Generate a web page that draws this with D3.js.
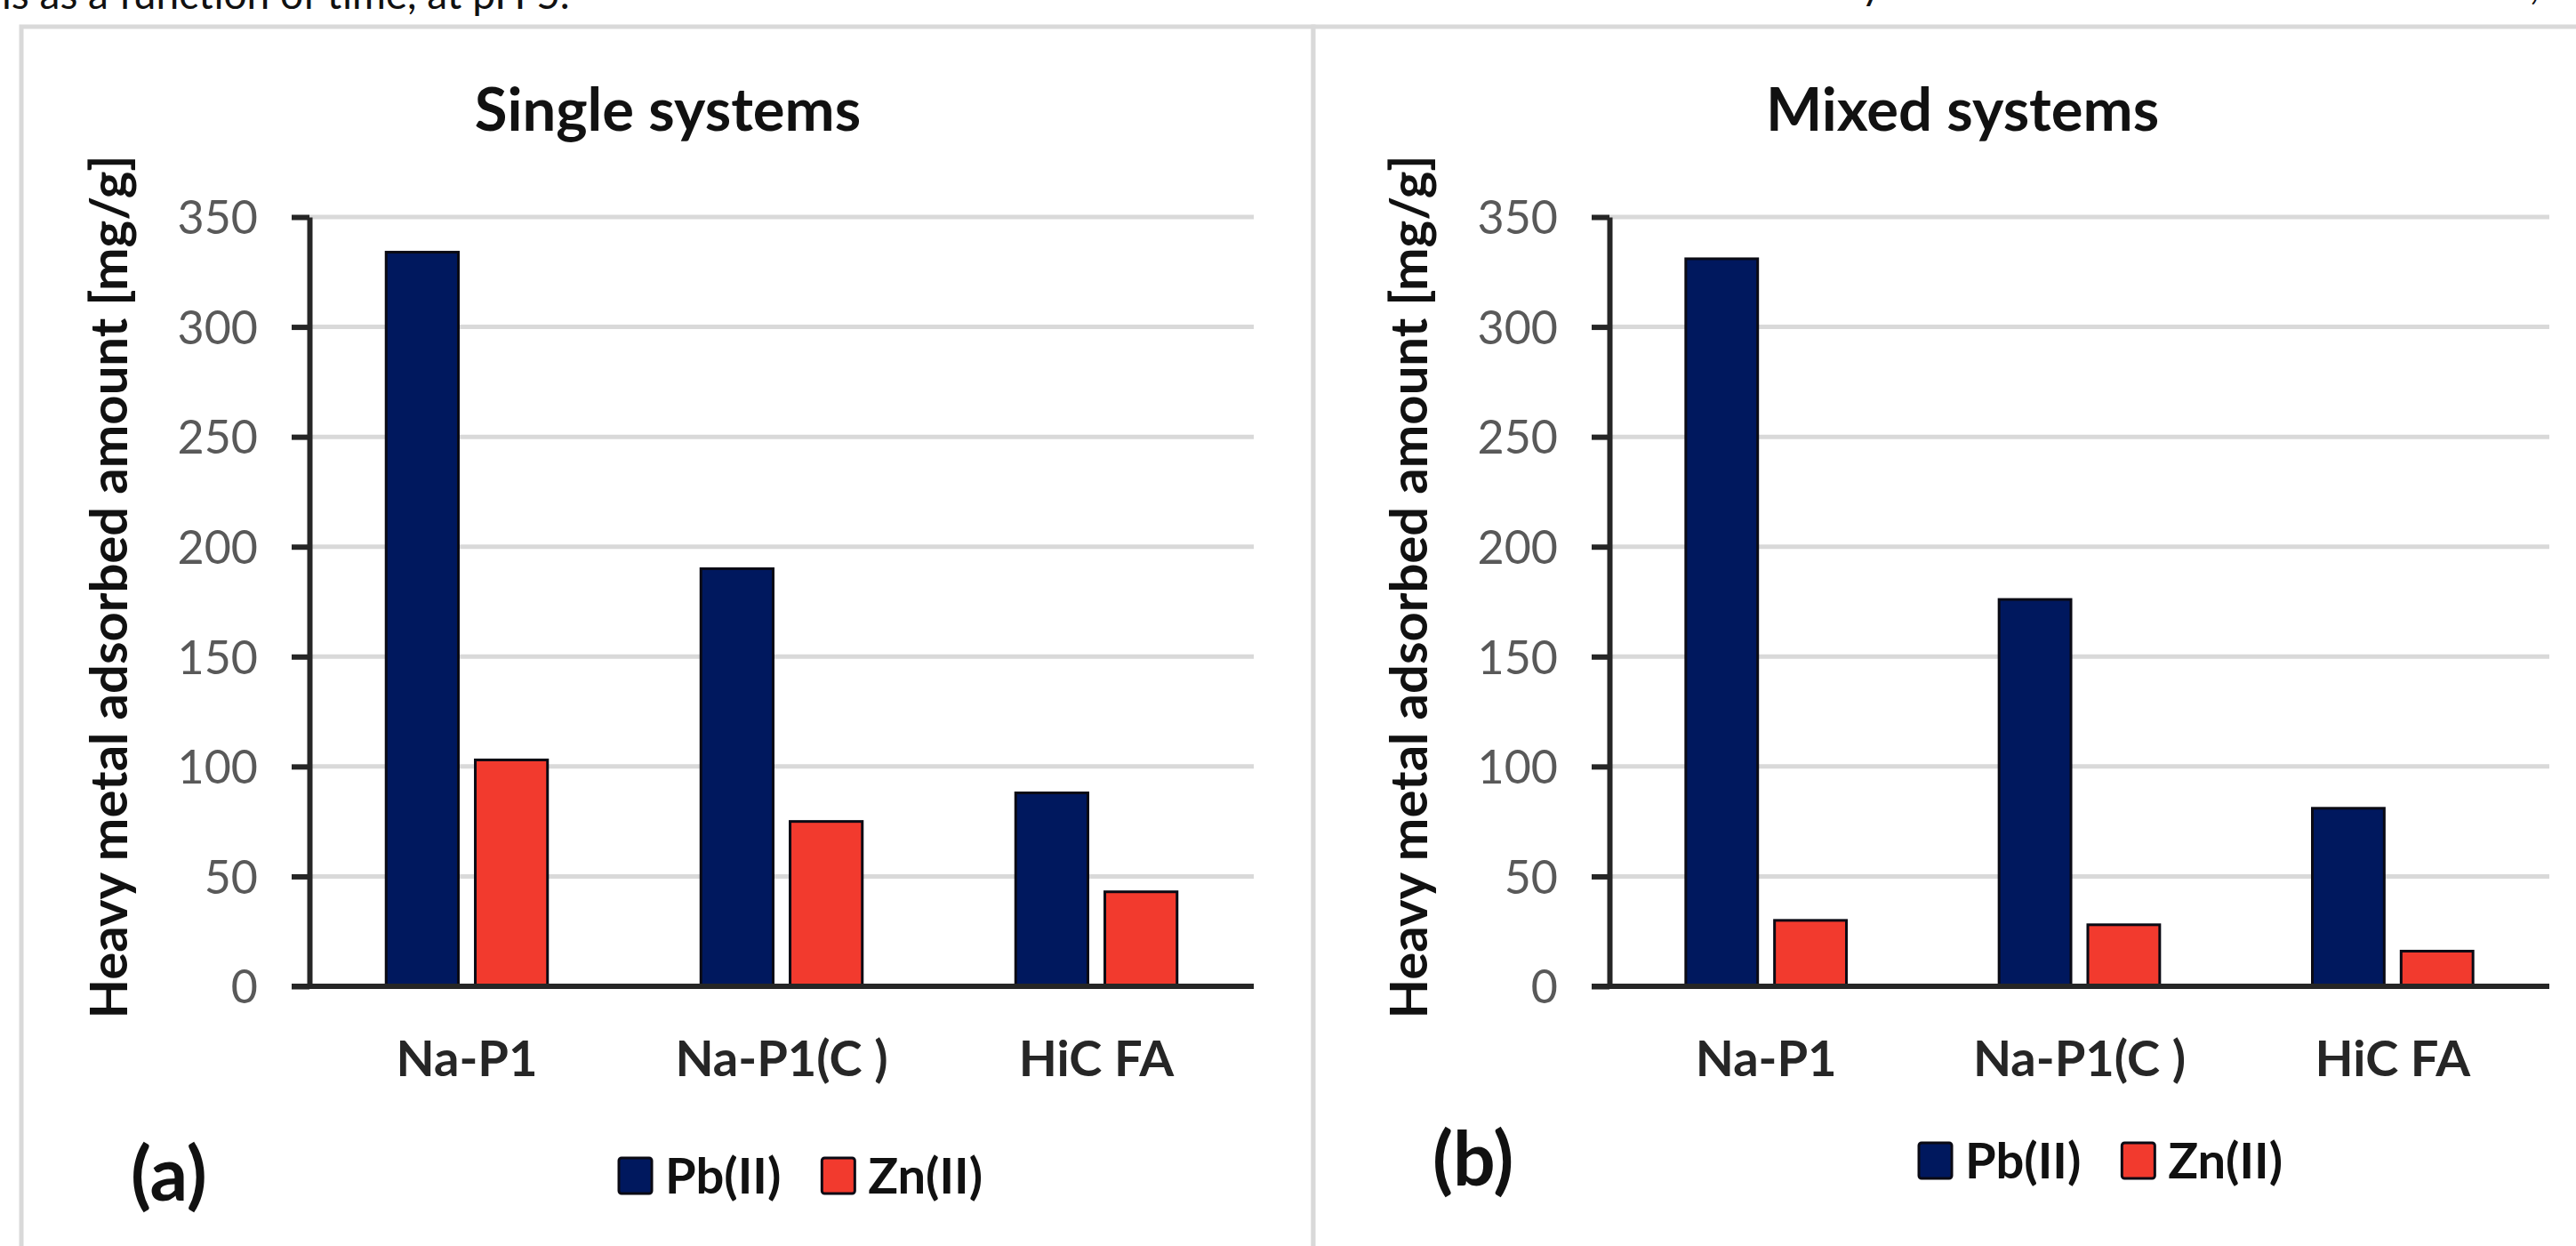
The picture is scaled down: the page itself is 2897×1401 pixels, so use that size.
<!DOCTYPE html>
<html>
<head>
<meta charset="utf-8">
<script src="https://cdn.jsdelivr.net/npm/d3@7"></script>
<style>
  html, body { margin: 0; padding: 0; background: #ffffff; }
  svg { display: block; }
</style>
</head>
<body>
<svg id="chart" width="2897" height="1401"></svg>
<script>
// ---------------- data ----------------
const categories = ["Na-P1", "Na-P1(C )", "HiC FA"];
const seriesNames = ["Pb(II)", "Zn(II)"];
const singlePb = [334, 190, 88];
const singleZn = [103, 75, 43];
const mixedPb = [331, 176, 81];
const mixedZn = [30, 28, 16];
const yTicks = [0, 50, 100, 150, 200, 250, 300, 350];
const panelTitles = ["Single systems", "Mixed systems"];
const panelLetters = ["(a)", "(b)"];
const yAxisTitle = "Heavy metal adsorbed amount [mg/g]";
const captionText = "ls as a function of time, at pH 5.";

// ---------------- styling / layout ----------------
const W = 2897, H = 1401;
const colors = { "Pb(II)": "#00185E", "Zn(II)": "#F23A2E" };
const FONT = "Lato, 'Open Sans', sans-serif";

const panels = [
  { title: panelTitles[0], letter: panelLetters[0], pb: singlePb, zn: singleZn,
    frameX: 24, x0: 348, x1: 1410, titleX: 751, legendY: 1322, letterX: 147, letterBase: 1350 },
  { title: panelTitles[1], letter: panelLetters[1], pb: mixedPb, zn: mixedZn,
    frameX: 1477, x0: 1810, x1: 2867, titleX: 2207, legendY: 1305, letterX: 1611, letterBase: 1333 }
];

const svg = d3.select("#chart");
svg.append("rect").attr("width", W).attr("height", H).attr("fill", "#ffffff");

// caption fragment at the top edge
svg.append("text").attr("x", 2).attr("y", 10)
  .attr("font-family", FONT).attr("font-size", 46).attr("fill", "#111")
  .text(captionText);
svg.append("text").attr("x", 2093).attr("y", -1)
  .attr("font-family", FONT).attr("font-size", 46).attr("fill", "#111").text("y");
svg.append("text").attr("x", 2845).attr("y", -1)
  .attr("font-family", FONT).attr("font-size", 46).attr("fill", "#111").text(",");

const y = d3.scaleLinear().domain([0, 350]).range([1109, 244]);

panels.forEach(p => {
  const g = svg.append("g");

  // panel frame
  g.append("rect")
    .attr("x", p.frameX).attr("y", 30)
    .attr("width", 1453).attr("height", H)
    .attr("fill", "#ffffff").attr("stroke", "#d9d9d9").attr("stroke-width", 5);

  const x = d3.scaleBand().domain(categories).range([p.x0, p.x1]).paddingInner(0).paddingOuter(0);
  const xs = d3.scaleBand().domain(seriesNames).range([0, x.bandwidth()])
    .paddingInner(0.19).paddingOuter(0.86);

  // gridlines
  g.append("g").selectAll("line").data(yTicks.filter(d => d > 0)).join("line")
    .attr("x1", p.x0).attr("x2", p.x1)
    .attr("y1", d => y(d)).attr("y2", d => y(d))
    .attr("stroke", "#d9d9d9").attr("stroke-width", 5);

  // bars
  const rows = categories.map((c, i) => ({ cat: c, vals: [
    { s: seriesNames[0], v: p.pb[i] }, { s: seriesNames[1], v: p.zn[i] } ] }));
  g.append("g").selectAll("g").data(rows).join("g")
    .attr("transform", d => `translate(${x(d.cat)},0)`)
    .selectAll("rect").data(d => d.vals).join("rect")
    .attr("x", d => xs(d.s)).attr("width", xs.bandwidth())
    .attr("y", d => y(d.v)).attr("height", d => y(0) - y(d.v))
    .attr("fill", d => colors[d.s])
    .attr("stroke", "#0a0a14").attr("stroke-width", 3);

  // y axis
  const yAxis = g.append("g").attr("transform", `translate(${p.x0},0)`)
    .call(d3.axisLeft(y).tickValues(yTicks).tickSize(20).tickSizeOuter(0)
      .tickPadding(38).tickFormat(d3.format("d")));
  yAxis.select(".domain").attr("stroke", "#262626").attr("stroke-width", 6);
  yAxis.selectAll(".tick line").attr("stroke", "#262626").attr("stroke-width", 6);
  yAxis.selectAll(".tick text")
    .attr("font-family", FONT).attr("font-size", 52).attr("fill", "#595959")
    .attr("dy", "0.36em");

  // x axis
  const xAxis = g.append("g").attr("transform", `translate(0,${y(0)})`)
    .call(d3.axisBottom(x).tickSize(0).tickSizeOuter(0));
  xAxis.select(".domain").remove();
  xAxis.selectAll(".tick text")
    .attr("y", 101).attr("dy", 0)
    .attr("font-family", FONT).attr("font-size", 56).attr("font-weight", "bold")
    .attr("fill", "#262626");
  g.append("line")
    .attr("x1", p.x0 - 20).attr("x2", p.x1)
    .attr("y1", y(0)).attr("y2", y(0))
    .attr("stroke", "#262626").attr("stroke-width", 6);

  // y axis title
  g.append("text")
    .attr("transform", `translate(${p.x0 - 228},${660}) rotate(-90)`)
    .attr("text-anchor", "middle").attr("dominant-baseline", "central")
    .attr("font-family", FONT).attr("font-size", 58).attr("font-weight", "bold")
    .attr("fill", "#111")
    .text(yAxisTitle);

  // title
  g.append("text")
    .attr("x", p.titleX).attr("y", 147)
    .attr("text-anchor", "middle")
    .attr("font-family", FONT).attr("font-size", 67).attr("font-weight", "bold")
    .attr("fill", "#111")
    .text(p.title);

  // legend
  const lg = g.append("g");
  let lx = p.x0 + 348;
  seriesNames.forEach(s => {
    lg.append("rect")
      .attr("x", lx).attr("y", p.legendY - 20).attr("width", 37).attr("height", 40)
      .attr("rx", 3)
      .attr("fill", colors[s]).attr("stroke", "#0a0a14").attr("stroke-width", 3);
    const t = lg.append("text")
      .attr("x", lx + 52).attr("y", p.legendY + 20)
      .attr("font-family", FONT).attr("font-size", 56).attr("font-weight", "bold")
      .attr("fill", "#111").text(s);
    lx += 52 + t.node().getComputedTextLength() + 46;
  });

  // panel letter
  g.append("text")
    .attr("x", p.letterX).attr("y", p.letterBase)
    .attr("font-family", FONT).attr("font-size", 84).attr("font-weight", "bold")
    .attr("fill", "#111").text(p.letter);
});
</script>
</body>
</html>
